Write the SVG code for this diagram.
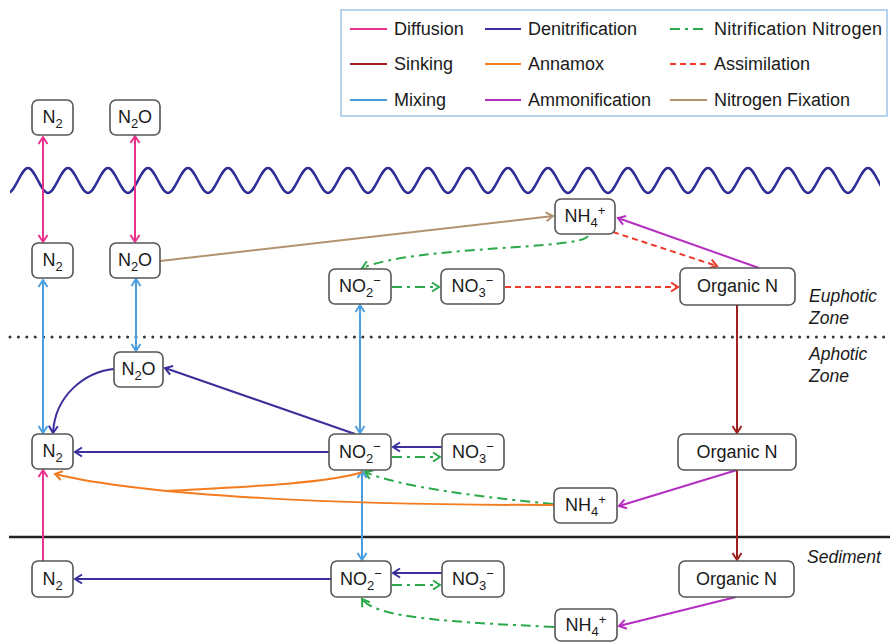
<svg xmlns="http://www.w3.org/2000/svg" width="890" height="642" viewBox="0 0 890 642">
<style>
.box{fill:#fff;stroke:#555;stroke-width:1.6}
.t{font-family:"Liberation Sans",Arial,sans-serif;font-size:18px;fill:#1a1a1a;text-anchor:middle}
.lg{font-family:"Liberation Sans",Arial,sans-serif;font-size:18px;fill:#1a1a1a}
.zone{font-family:"Liberation Sans",Arial,sans-serif;font-size:17.5px;font-style:italic;fill:#1a1a1a}
.s{font-size:13px}
.c{fill:none;stroke-width:2}
.diff{stroke:#e8338c}
.denit{stroke:#3a2f9b}
.nitr{stroke:#2ca94a;stroke-dasharray:10,5,3,5}
.sink{stroke:#a01f1f}
.anam{stroke:#f47c20}
.assim{stroke:#ee3a2a;stroke-dasharray:6,4}
.mix{stroke:#4a9ee0}
.ammon{stroke:#b42fbf}
.fix{stroke:#b3926f}
</style>
<defs>
<marker id="aDiff" viewBox="-10 -6 12 12" refX="0" refY="0" markerWidth="12" markerHeight="12" markerUnits="userSpaceOnUse" orient="auto-start-reverse"><path d="M-7,-4.5 L0,0 L-7,4.5" fill="none" stroke="#e8338c" stroke-width="2"/></marker>
<marker id="aDenit" viewBox="-10 -6 12 12" refX="0" refY="0" markerWidth="12" markerHeight="12" markerUnits="userSpaceOnUse" orient="auto-start-reverse"><path d="M-7,-4.5 L0,0 L-7,4.5" fill="none" stroke="#3a2f9b" stroke-width="2"/></marker>
<marker id="aNitr" viewBox="-10 -6 12 12" refX="0" refY="0" markerWidth="12" markerHeight="12" markerUnits="userSpaceOnUse" orient="auto-start-reverse"><path d="M-7,-4.5 L0,0 L-7,4.5" fill="none" stroke="#2ca94a" stroke-width="2"/></marker>
<marker id="aSink" viewBox="-10 -6 12 12" refX="0" refY="0" markerWidth="12" markerHeight="12" markerUnits="userSpaceOnUse" orient="auto-start-reverse"><path d="M-7,-4.5 L0,0 L-7,4.5" fill="none" stroke="#a01f1f" stroke-width="2"/></marker>
<marker id="aAnam" viewBox="-10 -6 12 12" refX="0" refY="0" markerWidth="12" markerHeight="12" markerUnits="userSpaceOnUse" orient="auto-start-reverse"><path d="M-7,-4.5 L0,0 L-7,4.5" fill="none" stroke="#f47c20" stroke-width="2"/></marker>
<marker id="aAssim" viewBox="-10 -6 12 12" refX="0" refY="0" markerWidth="12" markerHeight="12" markerUnits="userSpaceOnUse" orient="auto-start-reverse"><path d="M-7,-4.5 L0,0 L-7,4.5" fill="none" stroke="#ee3a2a" stroke-width="2"/></marker>
<marker id="aMix" viewBox="-10 -6 12 12" refX="0" refY="0" markerWidth="12" markerHeight="12" markerUnits="userSpaceOnUse" orient="auto-start-reverse"><path d="M-7,-4.5 L0,0 L-7,4.5" fill="none" stroke="#4a9ee0" stroke-width="2"/></marker>
<marker id="aAmmon" viewBox="-10 -6 12 12" refX="0" refY="0" markerWidth="12" markerHeight="12" markerUnits="userSpaceOnUse" orient="auto-start-reverse"><path d="M-7,-4.5 L0,0 L-7,4.5" fill="none" stroke="#b42fbf" stroke-width="2"/></marker>
<marker id="aFix" viewBox="-10 -6 12 12" refX="0" refY="0" markerWidth="12" markerHeight="12" markerUnits="userSpaceOnUse" orient="auto-start-reverse"><path d="M-7,-4.5 L0,0 L-7,4.5" fill="none" stroke="#b3926f" stroke-width="2"/></marker>
<clipPath id="waveClip"><rect x="10" y="150" width="870" height="60"/></clipPath>
</defs>

<rect width="890" height="642" fill="#fff"/>

<!-- legend -->
<g id="legend">
<rect x="341" y="10" width="546" height="106" fill="#fff" stroke="#a6c8e8" stroke-width="1.6"/>
<line x1="350" y1="29" x2="387" y2="29" class="c diff"/><text x="394" y="35" class="lg">Diffusion</text>
<line x1="485" y1="29" x2="521" y2="29" class="c denit"/><text x="528" y="35" class="lg">Denitrification</text>
<line x1="670" y1="29" x2="707" y2="29" class="c nitr"/><text x="714" y="35" class="lg" textLength="168">Nitrification Nitrogen</text>
<line x1="350" y1="64" x2="387" y2="64" class="c sink"/><text x="394" y="70" class="lg">Sinking</text>
<line x1="485" y1="64" x2="521" y2="64" class="c anam"/><text x="528" y="70" class="lg">Annamox</text>
<line x1="670" y1="64" x2="707" y2="64" class="c assim"/><text x="714" y="70" class="lg">Assimilation</text>
<line x1="350" y1="100" x2="387" y2="100" class="c mix"/><text x="394" y="106" class="lg">Mixing</text>
<line x1="485" y1="100" x2="521" y2="100" class="c ammon"/><text x="528" y="106" class="lg">Ammonification</text>
<line x1="670" y1="100" x2="707" y2="100" class="c fix"/><text x="714" y="106" class="lg">Nitrogen Fixation</text>
</g>

<!-- environment -->
<g id="surface">
<path clip-path="url(#waveClip)" fill="none" stroke="#2e2f94" stroke-width="2.6" d="M8,193 C15,193 21,168 28,168 S41,193 48,193 S61,168 68,168 S81,193 88,193 S101,168 108,168 S121,193 128,193 S141,168 148,168 S161,193 168,193 S181,168 188,168 S201,193 208,193 S221,168 228,168 S241,193 248,193 S261,168 268,168 S281,193 288,193 S301,168 308,168 S321,193 328,193 S341,168 348,168 S361,193 368,193 S381,168 388,168 S401,193 408,193 S421,168 428,168 S441,193 448,193 S461,168 468,168 S481,193 488,193 S501,168 508,168 S521,193 528,193 S541,168 548,168 S561,193 568,193 S581,168 588,168 S601,193 608,193 S621,168 628,168 S641,193 648,193 S661,168 668,168 S681,193 688,193 S701,168 708,168 S721,193 728,193 S741,168 748,168 S761,193 768,193 S781,168 788,168 S801,193 808,193 S821,168 828,168 S841,193 848,193 S861,168 868,168 S881,193 888,193"/>
</g>
<line id="euphotic-boundary" x1="10" y1="337" x2="890" y2="337" stroke="#333" stroke-width="3" stroke-linecap="round" stroke-dasharray="0,8.4"/>
<line id="sediment-boundary" x1="9" y1="537" x2="890" y2="537" stroke="#222" stroke-width="2.6"/>
<g id="zone-labels">
<text x="809" y="302" class="zone">Euphotic</text>
<text x="809" y="324" class="zone">Zone</text>
<text x="809" y="360" class="zone">Aphotic</text>
<text x="809" y="382" class="zone">Zone</text>
<text x="807" y="563" class="zone">Sediment</text>
</g>

<!-- connectors -->
<g id="connectors">
<!-- diffusion -->
<line x1="43" y1="137" x2="43" y2="242" class="c diff" marker-start="url(#aDiff)" marker-end="url(#aDiff)"/>
<line x1="135" y1="136" x2="135" y2="242" class="c diff" marker-start="url(#aDiff)" marker-end="url(#aDiff)"/>
<line x1="43" y1="561" x2="43" y2="470" class="c diff" marker-end="url(#aDiff)"/>
<!-- mixing -->
<line x1="43" y1="280" x2="43" y2="433" class="c mix" marker-start="url(#aMix)" marker-end="url(#aMix)"/>
<line x1="136" y1="279" x2="136" y2="351" class="c mix" marker-start="url(#aMix)" marker-end="url(#aMix)"/>
<line x1="360" y1="305" x2="360" y2="433" class="c mix" marker-start="url(#aMix)" marker-end="url(#aMix)"/>
<line x1="362" y1="471" x2="362" y2="560" class="c mix" marker-start="url(#aMix)" marker-end="url(#aMix)"/>
<!-- fixation -->
<line x1="160" y1="261" x2="553" y2="216" class="c fix" marker-end="url(#aFix)"/>
<!-- nitrification -->
<path d="M588,236 C580,250 420,245 362,268" class="c nitr" marker-end="url(#aNitr)"/>
<line x1="392" y1="287" x2="439" y2="287" class="c nitr" marker-end="url(#aNitr)"/>
<line x1="392" y1="457" x2="440" y2="457" class="c nitr" marker-end="url(#aNitr)"/>
<path d="M553,504 C480,497 400,487 365,472" class="c nitr" marker-end="url(#aNitr)"/>
<line x1="392" y1="585" x2="440" y2="585" class="c nitr" marker-end="url(#aNitr)"/>
<path d="M554,627 C450,622 375,618 362,599" class="c nitr" marker-end="url(#aNitr)"/>
<!-- assimilation -->
<line x1="505" y1="287" x2="678" y2="287" class="c assim" marker-end="url(#aAssim)"/>
<line x1="613" y1="232" x2="717" y2="266" class="c assim" marker-end="url(#aAssim)"/>
<!-- ammonification -->
<line x1="759" y1="268" x2="618" y2="218" class="c ammon" marker-end="url(#aAmmon)"/>
<line x1="737" y1="470" x2="619" y2="506" class="c ammon" marker-end="url(#aAmmon)"/>
<line x1="736" y1="597" x2="619" y2="626" class="c ammon" marker-end="url(#aAmmon)"/>
<!-- sinking -->
<line x1="737" y1="305" x2="737" y2="433" class="c sink" marker-end="url(#aSink)"/>
<line x1="737" y1="470" x2="737" y2="560" class="c sink" marker-end="url(#aSink)"/>
<!-- denitrification -->
<path d="M114,369 C85,372 55,395 53,433" class="c denit" marker-end="url(#aDenit)"/>
<line x1="355" y1="434" x2="165" y2="368" class="c denit" marker-end="url(#aDenit)"/>
<line x1="329" y1="452" x2="75" y2="452" class="c denit" marker-end="url(#aDenit)"/>
<line x1="442" y1="447" x2="393" y2="447" class="c denit" marker-end="url(#aDenit)"/>
<line x1="331" y1="579" x2="75" y2="579" class="c denit" marker-end="url(#aDenit)"/>
<line x1="442" y1="573" x2="393" y2="573" class="c denit" marker-end="url(#aDenit)"/>
<!-- anammox -->
<path d="M362,472 C330,484 220,488 166,491" class="c anam"/>
<path d="M554,505 C350,505 150,497 55,474" class="c anam" marker-end="url(#aAnam)"/>
</g>

<!-- nodes -->
<g id="n2-air"><rect x="32" y="100" width="41" height="35" rx="6" class="box"/><text x="52.5" y="123" class="t">N<tspan class="s" dy="5">2</tspan></text></g>
<g id="n2o-air"><rect x="110" y="100" width="50" height="35" rx="6" class="box"/><text x="135" y="123" class="t">N<tspan class="s" dy="5">2</tspan><tspan dy="-5">O</tspan></text></g>
<g id="n2-surface"><rect x="32" y="243" width="41" height="35" rx="6" class="box"/><text x="52.5" y="266" class="t">N<tspan class="s" dy="5">2</tspan></text></g>
<g id="n2o-surface"><rect x="110" y="243" width="50" height="35" rx="6" class="box"/><text x="135" y="266" class="t">N<tspan class="s" dy="5">2</tspan><tspan dy="-5">O</tspan></text></g>
<g id="nh4-euphotic"><rect x="555" y="199" width="60" height="35" rx="6" class="box"/><text x="585" y="222" class="t">NH<tspan class="s" dy="5">4</tspan><tspan class="s" dy="-12">+</tspan></text></g>
<g id="no2-euphotic"><rect x="329" y="269" width="62" height="35" rx="6" class="box"/><text x="360" y="292" class="t">NO<tspan class="s" dy="5">2</tspan><tspan class="s" dy="-12">−</tspan></text></g>
<g id="no3-euphotic"><rect x="441" y="269" width="63" height="35" rx="6" class="box"/><text x="472.5" y="292" class="t">NO<tspan class="s" dy="5">3</tspan><tspan class="s" dy="-12">−</tspan></text></g>
<g id="orgn-euphotic"><rect x="680" y="268" width="115" height="37" rx="6" class="box"/><text x="737.5" y="292" class="t">Organic N</text></g>
<g id="n2o-aphotic"><rect x="114" y="352" width="49" height="35" rx="6" class="box"/><text x="138.5" y="375" class="t">N<tspan class="s" dy="5">2</tspan><tspan dy="-5">O</tspan></text></g>
<g id="n2-aphotic"><rect x="32" y="434" width="41" height="35" rx="6" class="box"/><text x="52.5" y="457" class="t">N<tspan class="s" dy="5">2</tspan></text></g>
<g id="no2-aphotic"><rect x="329" y="434" width="62" height="36" rx="6" class="box"/><text x="360" y="458" class="t">NO<tspan class="s" dy="5">2</tspan><tspan class="s" dy="-12">−</tspan></text></g>
<g id="no3-aphotic"><rect x="442" y="434" width="62" height="36" rx="6" class="box"/><text x="473" y="458" class="t">NO<tspan class="s" dy="5">3</tspan><tspan class="s" dy="-12">−</tspan></text></g>
<g id="orgn-aphotic"><rect x="678" y="434" width="118" height="36" rx="6" class="box"/><text x="737" y="458" class="t">Organic N</text></g>
<g id="nh4-aphotic"><rect x="554" y="488" width="63" height="35" rx="6" class="box"/><text x="585.5" y="511" class="t">NH<tspan class="s" dy="5">4</tspan><tspan class="s" dy="-12">+</tspan></text></g>
<g id="n2-sediment"><rect x="32" y="561" width="41" height="36" rx="6" class="box"/><text x="52.5" y="585" class="t">N<tspan class="s" dy="5">2</tspan></text></g>
<g id="no2-sediment"><rect x="331" y="561" width="60" height="36" rx="6" class="box"/><text x="361" y="585" class="t">NO<tspan class="s" dy="5">2</tspan><tspan class="s" dy="-12">−</tspan></text></g>
<g id="no3-sediment"><rect x="442" y="561" width="62" height="36" rx="6" class="box"/><text x="473" y="585" class="t">NO<tspan class="s" dy="5">3</tspan><tspan class="s" dy="-12">−</tspan></text></g>
<g id="orgn-sediment"><rect x="679" y="561" width="115" height="36" rx="6" class="box"/><text x="736.5" y="585" class="t">Organic N</text></g>
<g id="nh4-sediment"><rect x="555" y="609" width="62" height="32" rx="6" class="box"/><text x="586" y="631" class="t">NH<tspan class="s" dy="5">4</tspan><tspan class="s" dy="-12">+</tspan></text></g>
</svg>
